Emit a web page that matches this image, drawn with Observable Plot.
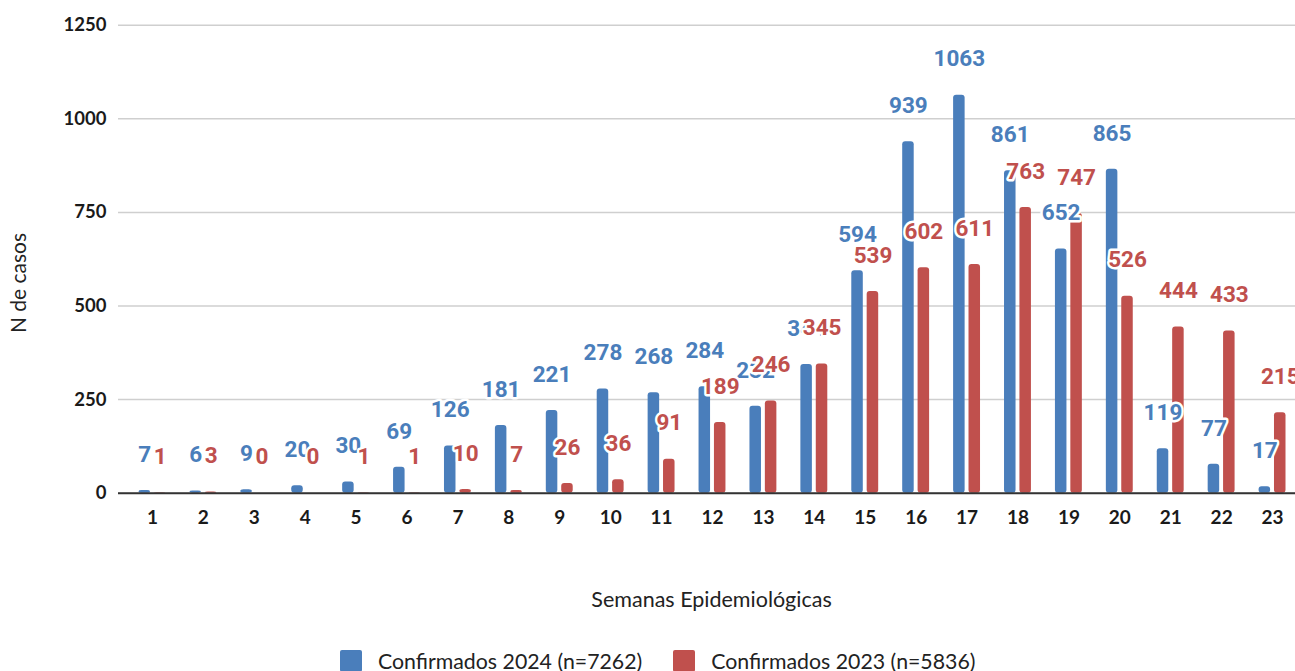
<!DOCTYPE html>
<html>
<head>
<meta charset="utf-8">
<script src="https://cdn.jsdelivr.net/npm/d3@7"></script>
<script src="https://cdn.jsdelivr.net/npm/@observablehq/plot@0.6"></script>
<style>
  html, body { margin: 0; padding: 0; background: #fff; }
  #chart svg { display: block; }
  .legend { display: flex; align-items: center; margin-top: 18px; padding-left: 340px; font-family: Lato, sans-serif; font-size: 21.3px; color: #222; }
  .legend .sw { width: 22px; height: 22px; border-radius: 2px; margin-right: 16px; }
  .legend .item { display: flex; align-items: center; margin-right: 31px; }
</style>
</head>
<body>
<div id="chart"></div>
<div class="legend" id="legend"></div>
<script>
const weeks = ["1","2","3","4","5","6","7","8","9","10","11","12","13","14","15","16","17","18","19","20","21","22","23"];
const conf2024 = [7, 6, 9, 20, 30, 69, 126, 181, 221, 278, 268, 284, 232, 344, 594, 939, 1063, 861, 652, 865, 119, 77, 17];
const conf2023 = [1, 3, 0, 0, 1, 1, 10, 7, 26, 36, 91, 189, 246, 345, 539, 602, 611, 763, 747, 526, 444, 433, 215];
const yTicks = [0, 250, 500, 750, 1000, 1250];
const seriesNames = ["Confirmados 2024 (n=7262)", "Confirmados 2023 (n=5836)"];
const xTitle = "Semanas Epidemiológicas";
const yTitle = "N de casos";
const colors = ["#4a7ebb", "#c0504d"];

const d24 = weeks.map((w, i) => ({week: w, value: conf2024[i]}));
const d23 = weeks.map((w, i) => ({week: w, value: conf2023[i]}));

const labelStyle = {stroke: "white", strokeWidth: 5, fontFamily: "Roboto", fontWeight: 700, fontSize: 22.5, dy: -36};

const chart = Plot.plot({
  width: 1295,
  height: 630,
  marginLeft: 118,
  marginRight: 0,
  marginTop: 24.7,
  marginBottom: 137.3,
  style: {fontFamily: "Lato", background: "white", overflow: "visible"},
  x: {type: "band", domain: weeks, range: [126.5, 1297.5], padding: 0, round: false},
  y: {domain: [0, 1250], range: [492.7, 24.7]},
  marks: [
    Plot.gridY(yTicks, {stroke: "#cfcfcf", strokeOpacity: 1, strokeWidth: 1.5}),
    Plot.barY(d24, {x: "week", y: "value", fill: colors[0], insetLeft: 12, insetRight: 27.4, rx: 3}),
    Plot.barY(d23, {x: "week", y: "value", fill: colors[1], insetLeft: 27.4, insetRight: 12, rx: 3}),
    Plot.ruleY([0], {stroke: "#333", strokeWidth: 2}),
    Plot.axisY({ticks: yTicks, tickSize: 0, tickPadding: 12, tickFormat: "d", fontSize: 18.5, fontWeight: 700, fill: "#1a1a1a", label: null}),
    Plot.axisX({tickSize: 0, tickPadding: 17, fontSize: 19, fontWeight: 700, fill: "#1a1a1a", label: null}),
    Plot.text([xTitle], {frameAnchor: "bottom", dx: 4.5, dy: 114, fontSize: 21.5, fill: "#222"}),
    Plot.text(d24, {x: "week", y: "value", text: d => String(d.value), dx: -7.75, fill: colors[0], ...labelStyle}),
    Plot.text(d23, {x: "week", y: "value", text: d => String(d.value), dx: 7.75, fill: colors[1], ...labelStyle})
  ]
});

d3.select(chart).append("text")
  .attr("transform", "translate(21,283) rotate(-90)")
  .attr("text-anchor", "middle")
  .attr("dominant-baseline", "middle")
  .style("font-family", "Lato")
  .style("font-size", "21px")
  .attr("fill", "#222")
  .text(yTitle);

document.getElementById("chart").appendChild(chart);

const legend = document.getElementById("legend");
seriesNames.forEach((name, i) => {
  const item = document.createElement("div");
  item.className = "item";
  const sw = document.createElement("div");
  sw.className = "sw";
  sw.style.background = colors[i];
  const t = document.createElement("span");
  t.textContent = name;
  item.appendChild(sw);
  item.appendChild(t);
  legend.appendChild(item);
});
</script>
</body>
</html>
